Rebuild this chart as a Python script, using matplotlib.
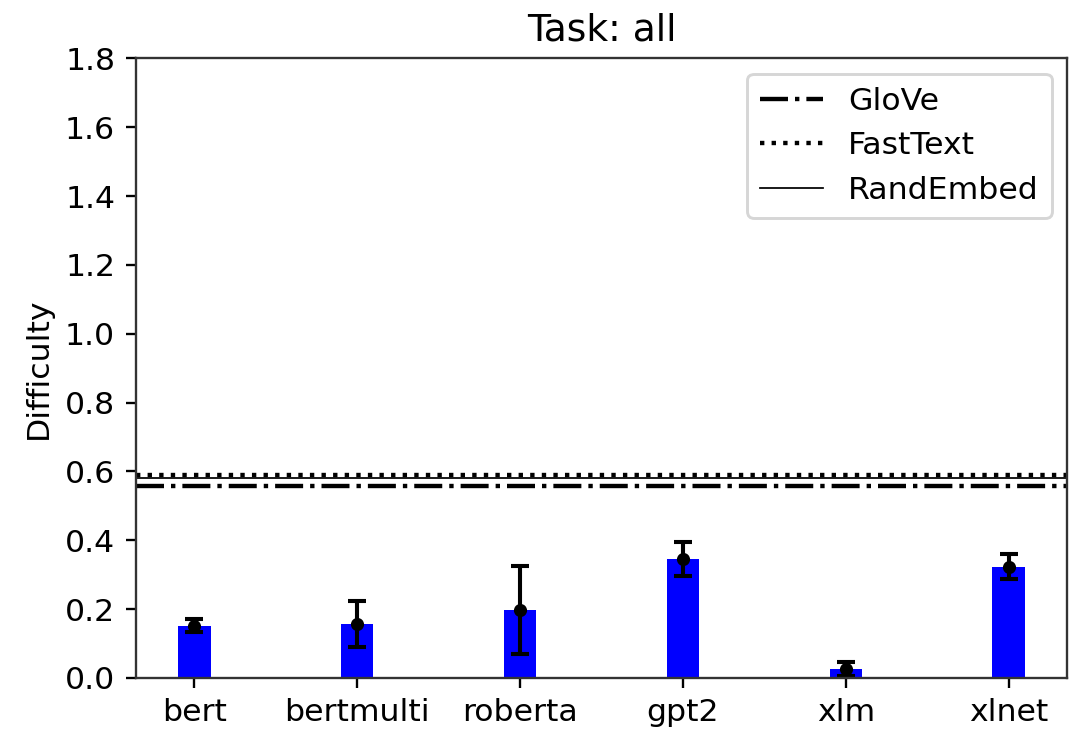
import matplotlib
matplotlib.use("Agg")
import matplotlib.pyplot as plt
import numpy as np

plt.rcParams.update({"font.size": 10.8})

# Data
models = ["bert", "bertmulti", "roberta", "gpt2", "xlm", "xlnet"]
difficulty = [0.152, 0.157, 0.198, 0.345, 0.026, 0.323]
difficulty_err = [0.018, 0.068, 0.128, 0.049, 0.021, 0.036]

glove = 0.557
fasttext = 0.589
randembed = 0.581

yticks = [0.0, 0.2, 0.4, 0.6, 0.8, 1.0, 1.2, 1.4, 1.6, 1.8]

fig = plt.figure(figsize=(1076 / 210, 729 / 210), dpi=210)
ax = fig.add_axes([0.126, 0.070, 0.866, 0.850])

x = np.arange(len(models))
ax.bar(x, difficulty, width=0.2, color="blue")
ax.errorbar(x, difficulty, yerr=difficulty_err, fmt="o", color="black",
            ms=3.5, capsize=3, elinewidth=1.4, capthick=1.4)

ax.axhline(glove, color="black", linestyle="-.", lw=1.5, label="GloVe")
ax.axhline(fasttext, color="black", linestyle=":", lw=1.5, label="FastText")
ax.axhline(randembed, color="black", linestyle="-", lw=0.6, label="RandEmbed")

ax.set_xticks(x)
ax.set_xticklabels(models)
ax.set_ylim(0, 1.8)
ax.set_yticks(yticks)
ax.set_ylabel("Difficulty")
ax.set_title("Task: all")
ax.legend(loc="upper right")
for spine in ax.spines.values():
    spine.set_color("#333333")

fig.savefig("out.png", dpi=210)
